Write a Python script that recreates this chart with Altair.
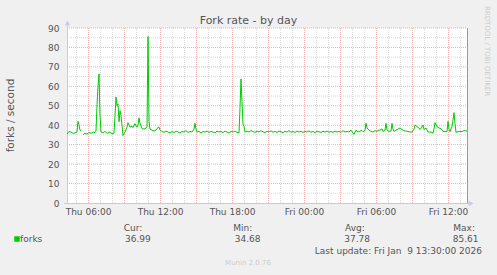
import altair as alt
import pandas as pd

# ---- data: sample times in minutes after Thu 2026-01-08 00:00, fork rate (forks / second)
times_a = [255, 265, 275, 285, 295, 305, 310, 315, 320, 325]
forks_a = [35.5, 36.8, 36.5, 35.8, 36.0, 36.5, 42.0, 40.0, 37.5, 37.0]

times_b = [
    335, 345, 355, 365, 375, 385, 395, 400, 405, 410, 415, 420, 425, 435, 445, 455, 465, 475, 485, 490,
    495, 500, 505, 510, 515, 520, 525, 530, 535, 545, 555, 560, 570, 580, 585, 595, 605, 610, 615, 620,
    630, 640, 650, 655, 660, 665, 670, 680, 690, 700, 710, 715, 720, 730,
    740, 750, 760, 770, 780, 790, 800, 810, 820, 830, 840, 850, 860, 870, 880, 890, 895, 900, 905, 915,
    925, 935, 945, 955, 965, 975, 985, 995, 1005, 1015, 1025, 1035, 1045, 1055, 1065, 1075, 1085, 1095,
    1105, 1115, 1120, 1125, 1130, 1135, 1140, 1145, 1155,
    1165, 1175, 1185, 1195, 1205, 1215, 1225, 1235, 1245, 1255, 1265, 1275, 1285, 1295, 1305, 1315,
    1325, 1335, 1345, 1355, 1365, 1375, 1385, 1395, 1405, 1415, 1425, 1435, 1445, 1455, 1465, 1475,
    1485, 1495, 1505, 1515, 1525, 1535, 1545, 1555, 1565, 1575, 1585, 1595, 1605, 1615, 1625, 1635, 1645,
    1655, 1665, 1675, 1685, 1690, 1700, 1710, 1720, 1730, 1735, 1745, 1750, 1755, 1765, 1775, 1785,
    1795, 1805, 1810, 1820, 1830, 1835, 1845, 1850, 1855, 1865, 1875, 1880, 1885, 1890, 1900, 1910,
    1920, 1930, 1940, 1950, 1960, 1970, 1980, 1990, 1995, 2005, 2015, 2020, 2025, 2035, 2040, 2050,
    2060, 2070, 2080, 2085, 2090, 2095, 2105, 2115, 2125, 2135, 2145, 2155, 2160, 2165, 2170, 2180,
    2185, 2190, 2195, 2200, 2210, 2220, 2230, 2240, 2250, 2255,
]
forks_b = [
    35.2, 35.8, 35.5, 36.3, 35.8, 36.5, 36.2, 37.0, 50.5, 60.0, 66.4, 45.0, 36.5, 36.0, 36.8, 35.8, 36.5, 36.0, 35.5, 36.0,
    45.0, 54.5, 50.0, 51.0, 41.8, 47.5, 45.0, 40.0, 34.68, 36.5, 39.0, 41.3, 39.0, 39.5, 38.8, 40.8, 39.0, 40.0, 43.8, 41.0,
    38.3, 38.0, 38.5, 39.0, 85.61, 42.0, 38.0, 37.5, 37.0, 37.5, 38.9, 39.0, 37.5, 36.8,
    36.3, 37.0, 36.5, 36.0, 36.8, 36.2, 37.0, 36.5, 36.0, 36.8, 36.5, 37.2, 36.3, 36.8, 36.5, 38.0, 41.0, 38.0, 36.5, 36.8,
    36.0, 36.8, 36.5, 37.0, 36.3, 36.8, 36.5, 36.0, 37.0, 36.5, 36.8, 36.2, 37.0, 36.5, 36.0, 36.8, 36.5, 37.0,
    36.3, 36.0, 49.0, 63.8, 52.0, 40.5, 39.5, 36.5, 37.0,
    36.5, 37.2, 36.8, 36.3, 37.0, 36.5, 37.2, 36.6, 36.2, 36.9, 36.5, 37.1, 36.4, 36.8, 36.3, 37.0,
    36.6, 36.2, 36.9, 36.5, 37.2, 36.4, 36.8, 36.3, 37.0, 36.5, 36.9, 36.3, 36.8, 36.5, 37.1, 36.4,
    36.8, 36.2, 37.0, 36.6, 36.3, 36.9, 36.5, 37.0, 36.4, 36.8, 36.3, 37.0, 36.5, 36.8, 36.3, 37.2, 36.5,
    36.8, 36.5, 37.5, 36.0, 35.3, 37.5, 36.5, 37.0, 37.3, 36.7, 37.2, 41.0, 38.6, 37.5, 36.8, 36.5,
    37.2, 36.8, 37.3, 37.5, 38.1, 36.8, 37.5, 41.0, 37.5, 36.8, 37.0, 41.0, 38.0, 36.8, 37.5, 38.0,
    38.6, 37.8, 37.2, 37.0, 36.8, 36.5, 36.5, 38.0, 40.1, 39.3, 38.5, 37.8, 38.5, 40.1, 37.8, 38.6,
    36.5, 36.5, 36.3, 35.8, 38.0, 41.3, 39.3, 38.6, 38.2, 36.8, 36.7, 36.7, 42.0, 38.0, 36.7, 39.3,
    42.7, 46.5, 41.0, 36.3, 36.7, 36.8, 36.7, 37.3, 37.0, 36.99,
]

stat_labels = ["Cur:", "Min:", "Avg:", "Max:"]
stat_values = ["36.99", "34.68", "37.78", "85.61"]
series_name = "forks"
title_text = "Fork rate - by day"
y_title = "forks / second"
last_update = "Last update: Fri Jan \u00a09 13:30:00 2026"
side_text = "RRDTOOL / TOBI OETIKER"
footer_text = "Munin 2.0.76"

y_ticks = [0, 10, 20, 30, 40, 50, 60, 70, 80, 90]
x_tick_hours = [6, 12, 18, 24, 30, 36]
minor_hours = list(range(5, 38))
major_hours = [6, 9, 12, 15, 18, 21, 24, 27, 30, 33, 36]
minor_y = [5, 15, 25, 35, 45, 55, 65, 75, 85]
major_y = [10, 20, 30, 40, 50, 60, 70, 80, 90]

# ---- build tables
base = pd.Timestamp("2026-01-08 00:00:00")
df = pd.DataFrame({
    "t": [base + pd.Timedelta(minutes=m) for m in times_a + times_b],
    "v": forks_a + forks_b,
    "seg": ["a"] * len(times_a) + ["b"] * len(times_b),
})
gx_minor = pd.DataFrame({"t": [base + pd.Timedelta(hours=h) for h in minor_hours]})
gx_major = pd.DataFrame({"t": [base + pd.Timedelta(hours=h) for h in major_hours]})
gy_minor = pd.DataFrame({"v": minor_y})
gy_major = pd.DataFrame({"v": major_y})
one = pd.DataFrame({"k": [0]})

W, H = 400, 175
FONT = "DejaVu Sans"
TXT = "#555555"
AXIS_C = "#C4C8F2"
MINOR_C = "#D8D8D8"
MAJOR_C = "#EDB0B0"


def dt(h, m=0):
    return alt.DateTime(year=2026, month=1, date=8 + h // 24, hours=h % 24, minutes=m)


xscale = alt.Scale(domain=[dt(4, 15), dt(37, 35)])
yscale = alt.Scale(domain=[0, 90], nice=False, zero=True)
xaxis = alt.Axis(title=None, format="%a %H:%M", values=[dt(h) for h in x_tick_hours],
                 labelPadding=4, labelFlush=False, labelOverlap=False)
yaxis = alt.Axis(title=None, values=y_ticks, labelPadding=8)
X = alt.X("t:T", scale=xscale, axis=xaxis)
Y = alt.Y("v:Q", scale=yscale, axis=yaxis)

grid_minor_x = alt.Chart(gx_minor).mark_rule(color=MINOR_C, strokeDash=[1, 1], strokeWidth=1, xOffset=0.5).encode(
    x=X, y=alt.value(0), y2=alt.value(H))
grid_major_x = alt.Chart(gx_major).mark_rule(color=MAJOR_C, strokeDash=[1, 1], strokeWidth=1, xOffset=0.5).encode(
    x=X, y=alt.value(0), y2=alt.value(H))
grid_minor_y = alt.Chart(gy_minor).mark_rule(color=MINOR_C, strokeDash=[1, 1], strokeWidth=1).encode(
    y=Y, x=alt.value(0), x2=alt.value(W))
grid_major_y = alt.Chart(gy_major).mark_rule(color=MAJOR_C, strokeDash=[1, 1], strokeWidth=1).encode(
    y=Y, x=alt.value(0), x2=alt.value(W))

right_border = alt.Chart(one).mark_rule(color="#9A9A9A", strokeWidth=1).encode(
    x=alt.value(W + 0.5), y=alt.value(0), y2=alt.value(H))
y_axis_line = alt.Chart(one).mark_rule(color=AXIS_C, strokeWidth=1).encode(
    x=alt.value(0.5), y=alt.value(-3), y2=alt.value(H))
x_axis_line = alt.Chart(one).mark_rule(color=AXIS_C, strokeWidth=1).encode(
    x=alt.value(-3), x2=alt.value(W + 3), y=alt.value(H + 0.5))
arrow_up = alt.Chart(one).mark_point(shape="triangle-up", filled=True, size=28, color=AXIS_C, opacity=1).encode(
    x=alt.value(0.5), y=alt.value(-5))
arrow_right = alt.Chart(one).mark_point(shape="triangle-right", filled=True, size=28, color=AXIS_C, opacity=1).encode(
    x=alt.value(W + 4), y=alt.value(H + 0.5))

line = alt.Chart(df).mark_line(color="#00CC00", strokeWidth=1).encode(
    x=X, y=Y, detail="seg:N",
)


def txt(text, x, y, size=9, color=TXT, align="left", angle=0):
    return alt.Chart(one).mark_text(font=FONT, fontSize=size, color=color, align=align,
                                    baseline="middle", angle=angle).encode(
        x=alt.value(x), y=alt.value(y), text=alt.value(text))


texts = [
    txt(title_text, 181.5, -7, size=11, align="center"),
    txt(y_title, -56, 87.5, size=10.5, align="center", angle=270),
    txt(side_text, 420, 23, size=7, color="#CCCCCC", align="center", angle=90),
    txt(series_name, -47, 211),
    txt(stat_labels[0], 56.7, 199.5), txt(stat_values[0], 58, 211),
    txt(stat_labels[1], 166.3, 199.5), txt(stat_values[1], 167.7, 211),
    txt(stat_labels[2], 278, 199.5), txt(stat_values[2], 277.3, 211),
    txt(stat_labels[3], 386.3, 199.5), txt(stat_values[3], 385.7, 211),
    txt(last_update, 415, 223, align="right"),
    txt(footer_text, 181, 235, size=7, color="#CCCCCC", align="center"),
]
legend_box = alt.Chart(one).mark_point(shape="square", filled=True, size=30, color="#00CC00", opacity=1).encode(
    x=alt.value(-50), y=alt.value(211))

chart = alt.layer(
    grid_minor_x, grid_minor_y, grid_major_x, grid_major_y,
    right_border, y_axis_line, x_axis_line, arrow_up, arrow_right,
    line, legend_box, *texts,
).properties(
    width=W, height=H,
    padding={"left": 67, "top": 28, "right": 30, "bottom": 72},
    autosize=alt.AutoSizeParams(type="none"),
    background="#F0F0F0",
).configure_view(fill="white", strokeWidth=0).configure_axis(
    grid=False, domain=False, ticks=False, labelFont=FONT, labelFontSize=9, labelColor=TXT,
)

chart.save("out.html", embed_options={"renderer": "svg", "actions": False})
